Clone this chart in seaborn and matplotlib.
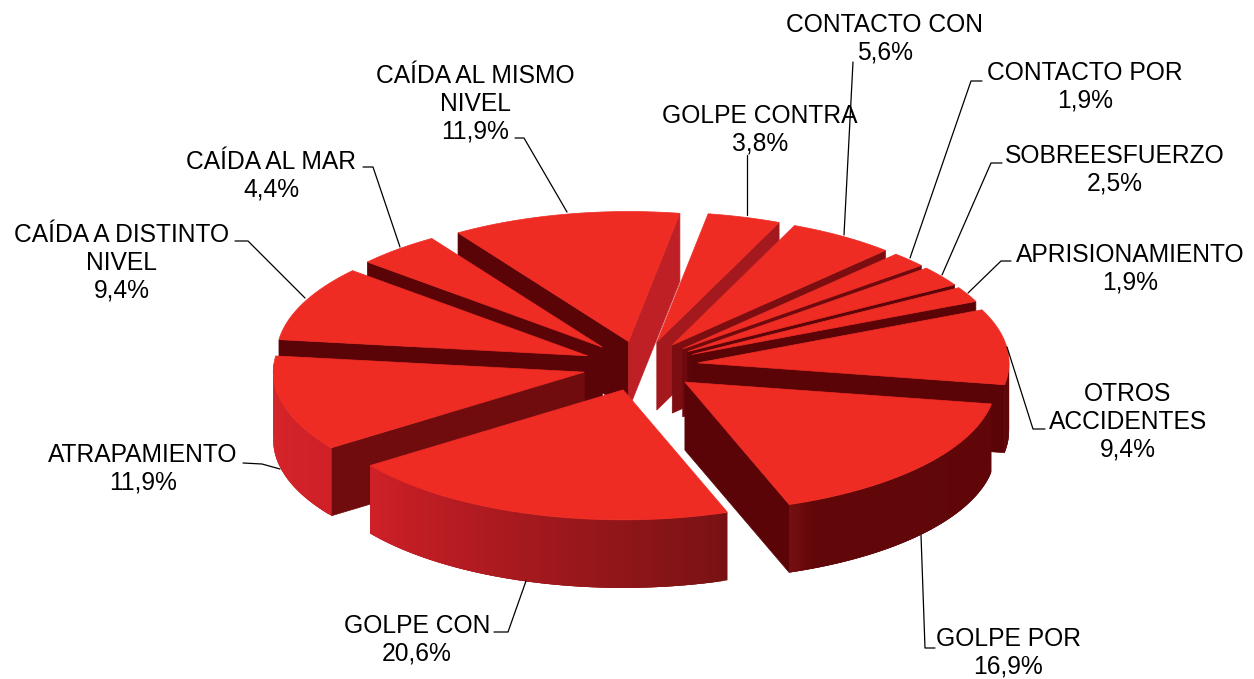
import numpy as np
import matplotlib
matplotlib.use("Agg")
import matplotlib.pyplot as plt
from matplotlib.patches import Polygon
import seaborn as sns

sns.set_theme(style="white")
plt.rcParams['font.family'] = ['Liberation Sans', 'DejaVu Sans']

# data
categories = ["GOLPE CONTRA", "CONTACTO CON", "CONTACTO POR", "SOBREESFUERZO",
              "APRISIONAMIENTO", "OTROS\nACCIDENTES", "GOLPE POR", "GOLPE CON",
              "ATRAPAMIENTO", "CAÍDA A DISTINTO\nNIVEL", "CAÍDA AL MAR",
              "CAÍDA AL MISMO\nNIVEL"]
values = [3.8, 5.6, 1.9, 2.5, 1.9, 9.4, 16.9, 20.6, 11.9, 9.4, 4.4, 11.9]
value_labels = ["3,8%", "5,6%", "1,9%", "2,5%", "1,9%", "9,4%", "16,9%", "20,6%",
                "11,9%", "9,4%", "4,4%", "11,9%"]

# geometry/style
CX, CY, RX, RY, DEPTH = 640.5, 366, 311, 130, 68
EX, EY = 58, 25
START = -80.5
TOP = "#EE2C24"
label_pos = [(760, 130), (885, 39), (1085, 87), (1115, 170), (1130, 269), (1128, 422),
             (1008, 653), (417, 640), (143, 469), (122, 263), (271, 176), (475, 104)]
leaders = [[(747, 155), (747, 215)], [(853, 62), (844, 235)], [(982, 81), (971, 81), (910, 258)],
           [(1002, 163), (991, 163), (942, 275)], [(1011, 261), (1001, 261), (968, 293)],
           [(1045, 429), (1033, 429), (1007, 347)], [(935, 648), (925, 648), (921, 535)],
           [(494, 632), (508, 632), (526, 581)], [(243, 463), (262, 464), (280, 469)],
           [(235, 241), (248, 241), (305, 298)], [(363, 167), (373, 167), (400, 247)],
           [(515, 138), (524, 138), (567, 212)]]

fig = plt.figure(figsize=(12.54, 6.79), dpi=100)
ax = fig.add_axes([0, 0, 1, 1])
ax.set_xlim(0, 1254)
ax.set_ylim(679, 0)
ax.axis("off")

grad = sns.blend_palette(["#5C0508", "#6A0A0C", "#7A1214", "#D02028", "#D62A2C"], 256)
end_grad = sns.blend_palette(["#BE2025", "#5A0408"], 101)


def wall_colour(t):
    t = ((t + 90) % 360) - 90
    f = np.interp(t, [-90, 65, 71, 144, 200], [0, 0.1, 0.5, 0.75, 1])
    return grad[int(f * 255)]


def end_colour(t):
    return end_grad[int(np.interp(t, [-80, -30], [0, 100]))]


edges = START + np.cumsum([0] + values) / np.sum(values) * 360
slices = []
for i, v in enumerate(values):
    t0, t1 = edges[i], edges[i + 1]
    mid = np.radians((t0 + t1) / 2)
    slices.append((np.sin(mid), i, t0, t1, mid))

for _, i, t0, t1, mid in sorted(slices):
    ax0 = CX + EX * np.cos(mid)
    ay0 = CY + EY * np.sin(mid)
    ts = np.radians(np.linspace(t0, t1, 80))
    xs = ax0 + RX * np.cos(ts)
    ys = ay0 + RY * np.sin(ts)
    # radial faces
    for edge, px, py, kind in ((t0, xs[0], ys[0], "start"), (t1, xs[-1], ys[-1], "end")):
        norm = ((edge + 90) % 360) - 90
        if kind == "start" and 90 < edge % 360 < 270:
            col = "#700C0E" if edge % 360 < 160 else "#5A0408"
        elif kind == "end" and -90 < norm < 90:
            col = end_colour(norm)
        else:
            continue
        ax.add_patch(Polygon([(ax0, ay0), (px, py), (px, py + DEPTH), (ax0, ay0 + DEPTH)],
                             closed=True, fc=col, ec=col, lw=0.5, zorder=2))
    # outer wall (overlapping strips so no seams show)
    for k in range(len(ts) - 1):
        if np.sin(ts[k]) > -0.05 or np.sin(ts[k + 1]) > -0.05:
            col = wall_colour(np.degrees(ts[k]))
            e = min(k + 4, len(ts))
            seg_x, seg_y = xs[k:e], ys[k:e]
            poly = np.vstack([np.column_stack([seg_x, seg_y]),
                              np.column_stack([seg_x[::-1], seg_y[::-1] + DEPTH])])
            ax.add_patch(Polygon(poly, closed=True, fc=col, ec="none", lw=0, zorder=2))
    ax.add_patch(Polygon(np.vstack([[ax0, ay0], np.column_stack([xs, ys])]), closed=True,
                         fc=TOP, ec=TOP, lw=0.5, zorder=2))

for cat, val, (x, y), pts in zip(categories, value_labels, label_pos, leaders):
    ax.text(x, y, f"{cat}\n{val}", ha="center", va="center", fontsize=17.7,
            color="black", linespacing=1.2, zorder=5)
    pts = np.array(pts)
    ax.plot(pts[:, 0], pts[:, 1], color="black", lw=0.9, zorder=4)

fig.savefig("out.png", dpi=100, facecolor="white")
